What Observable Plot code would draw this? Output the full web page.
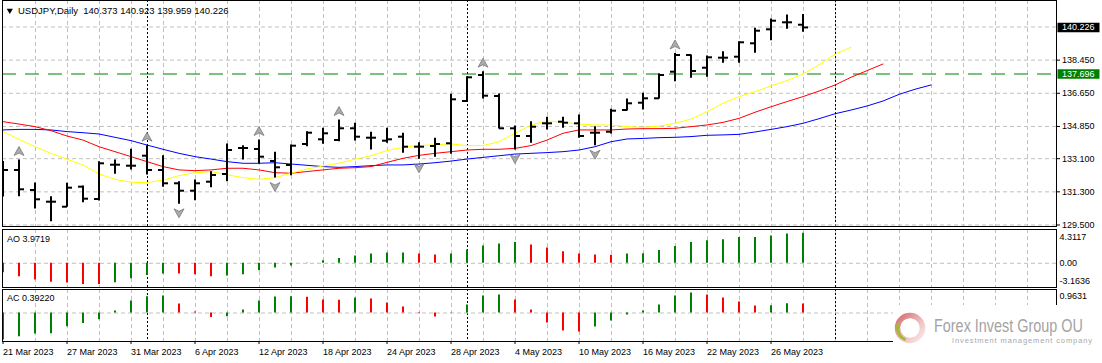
<!DOCTYPE html>
<html>
<head>
<meta charset="utf-8">
<script src="https://cdn.jsdelivr.net/npm/d3@7"></script>
<script src="https://cdn.jsdelivr.net/npm/@observablehq/plot@0.6"></script>
<style>
html, body { margin: 0; padding: 0; background: #ffffff; }
#chart { position: relative; width: 1102px; height: 363px; overflow: hidden; background: #fff; }
.panel { position: absolute; left: 0; }
.panel svg { display: block; max-width: none !important; }
#wm { position: absolute; left: 893px; top: 305px; width: 209px; height: 58px; background: #fff; }
</style>
</head>
<body>
<div id="chart">
  <div class="panel" id="pMain" style="top:0px"></div>
  <div class="panel" id="pAO" style="top:228px"></div>
  <div class="panel" id="pAC" style="top:288px"></div>
  <div id="wm">
    <svg width="209" height="58" xmlns="http://www.w3.org/2000/svg">
      <defs>
        <linearGradient id="ring" x1="0" y1="0" x2="1" y2="1">
          <stop offset="0" stop-color="#d27070"/>
          <stop offset="0.55" stop-color="#eebcbc"/>
          <stop offset="1" stop-color="#fbeaea"/>
        </linearGradient>
      </defs>
      <circle cx="17" cy="23" r="12.5" fill="none" stroke="url(#ring)" stroke-width="5.5"/>
      <path d="M5.25,18.72 A12.5,12.5 0 0 0 12.72,34.75" fill="none" stroke="#9cbf2c" stroke-width="2.5"/>
      <text id="wmBig" x="0" y="0" transform="translate(41,27.3)" font-family="'Liberation Sans Narrow','Liberation Sans',Arial,sans-serif" font-size="19" fill="#a3a3a3">Forex Invest Group OU</text>
      <text id="wmSmall" x="59" y="37.5" font-family="'Liberation Sans',Arial,sans-serif" font-size="7.5" fill="#a9a9a9">Investment management company</text>
    </svg>
  </div>
</div>
<script>
// ---------------- data ----------------
const symbolName = "USDJPY";
const timeframe = "Daily";
const dates = ["21 Mar 2023","22 Mar 2023","23 Mar 2023","24 Mar 2023","27 Mar 2023","28 Mar 2023","29 Mar 2023","30 Mar 2023","31 Mar 2023",
  "3 Apr 2023","4 Apr 2023","5 Apr 2023","6 Apr 2023","7 Apr 2023","10 Apr 2023","11 Apr 2023","12 Apr 2023","13 Apr 2023","14 Apr 2023",
  "17 Apr 2023","18 Apr 2023","19 Apr 2023","20 Apr 2023","21 Apr 2023","24 Apr 2023","25 Apr 2023","26 Apr 2023","27 Apr 2023","28 Apr 2023",
  "1 May 2023","2 May 2023","3 May 2023","4 May 2023","5 May 2023","8 May 2023","9 May 2023","10 May 2023","11 May 2023","12 May 2023",
  "15 May 2023","16 May 2023","17 May 2023","18 May 2023","19 May 2023","22 May 2023","23 May 2023","24 May 2023","25 May 2023","26 May 2023",
  "29 May 2023","30 May 2023"];
const open  = [132.757,132.486,131.400,130.765,130.493,131.579,130.911,132.773,132.719,133.262,132.486,131.764,131.362,131.850,132.268,133.680,133.626,
  132.974,132.757,133.897,134.152,134.115,134.750,134.239,134.077,134.294,133.751,133.789,133.935,136.232,137.643,136.503,134.750,134.332,135.021,
  135.108,135.021,134.511,134.565,135.743,136.139,136.378,137.822,138.729,138.040,138.583,138.637,139.364,140.124,140.504,140.373];
const high  = [132.947,133.028,131.780,131.036,131.764,131.617,132.936,133.028,133.610,133.805,133.262,131.850,131.943,132.393,133.897,133.805,134.115,
  133.447,133.843,134.565,134.750,135.200,135.021,134.532,134.750,134.478,133.968,134.207,136.595,137.551,137.822,136.612,134.874,135.108,135.347,
  135.347,135.472,134.836,135.781,136.340,136.650,137.698,138.810,138.729,138.675,138.908,139.451,140.179,140.683,140.901,140.923];
const low   = [131.020,131.036,130.368,129.679,130.461,130.710,130.803,132.252,132.486,132.214,131.546,130.623,130.819,131.525,131.850,133.029,132.812,
  132.051,132.176,133.751,133.881,134.022,134.060,133.572,133.935,133.393,133.067,133.175,133.338,136.194,136.340,134.711,133.572,133.935,134.657,
  134.750,134.207,133.805,134.440,135.689,135.743,136.340,137.279,137.464,137.518,138.278,138.278,138.821,139.505,140.124,139.959];
const close = [132.486,131.438,130.895,130.765,131.525,130.928,132.849,132.773,132.719,132.486,131.764,131.362,131.764,132.214,133.571,133.680,133.208,
  132.632,133.805,134.511,134.478,134.750,134.294,134.239,134.152,133.751,133.751,133.897,136.324,137.518,136.520,134.750,134.332,134.836,135.021,
  135.054,134.332,134.511,135.705,136.107,136.378,137.643,138.729,137.860,138.604,138.583,139.419,140.048,140.591,140.504,140.226];

// Alligator lines (extend into the future)
const lips  = [134.57,134.15,133.75,133.39,133.07,132.76,132.27,131.98,131.82,131.80,131.94,132.18,132.34,132.40,132.23,132.07,131.98,132.07,132.31,
  132.54,132.70,132.85,133.07,133.26,133.54,133.72,133.81,133.86,133.90,133.81,133.81,134.02,134.48,134.93,135.15,135.07,134.98,134.93,134.93,
  134.84,134.80,134.87,135.02,135.25,135.65,136.11,136.47,136.74,137.05,137.34,137.70,138.19,138.77,139.15];
const teeth = [135.11,134.98,134.84,134.62,134.33,134.11,133.75,133.48,133.21,132.94,132.67,132.49,132.45,132.49,132.58,132.58,132.49,132.34,132.31,
  132.40,132.49,132.58,132.61,132.67,132.90,133.12,133.28,133.39,133.48,133.57,133.61,133.61,133.66,133.81,134.11,134.48,134.66,134.66,134.66,
  134.71,134.73,134.73,134.75,134.84,134.93,135.07,135.29,135.62,135.92,136.20,136.47,136.77,137.10,137.52,137.88,138.24];
const jaw   = [134.66,134.69,134.69,134.66,134.57,134.51,134.44,134.26,134.08,133.84,133.61,133.39,133.21,133.08,132.94,132.85,132.85,132.88,132.81,
  132.74,132.67,132.63,132.67,132.72,132.76,132.76,132.81,132.88,132.97,133.08,133.17,133.26,133.35,133.39,133.43,133.48,133.57,133.75,134.02,
  134.17,134.20,134.24,134.26,134.30,134.37,134.39,134.42,134.55,134.69,134.84,135.02,135.27,135.54,135.74,135.96,136.23,136.59,136.87,137.10];

const fractalUp   = [1, 9, 16, 21, 30, 42];
const fractalDown = [3, 11, 17, 26, 32, 37];

const ao = [-1.24,-1.77,-2.21,-2.52,-2.60,-2.80,-2.82,-2.56,-2.03,-1.63,-1.41,-1.43,-1.50,-1.77,-1.68,-1.50,-0.97,-0.62,-0.35,0.04,0.35,0.62,0.97,
  1.24,1.37,1.38,1.24,1.10,1.24,1.77,2.29,2.56,2.74,2.43,2.03,1.54,1.24,1.10,1.08,1.24,1.25,1.68,2.21,2.74,3.00,3.13,3.40,3.42,3.62,3.88,3.9719];
const aoDir = ("rrrrrrr" + "gggg" + "rrr" + "gggggggggggg" + "rr" + "ggggg" + "rrrrrr" + "gggggggggggg").split("");
const ac = [-1.18,-1.03,-0.92,-0.90,-0.60,-0.46,-0.29,0.09,0.52,0.71,0.74,0.39,0.04,-0.20,-0.16,0.13,0.52,0.70,0.71,0.69,0.57,0.56,0.65,0.61,0.44,
  0.26,-0.02,-0.17,-0.01,0.35,0.74,0.78,0.57,0.13,-0.44,-0.78,-0.83,-0.61,-0.35,-0.09,0.09,0.35,0.74,0.87,0.78,0.65,0.48,0.31,0.32,0.40,0.3922];
const acDir = ("ggggggggggg" + "rrr" + "ggggg" + "rrr" + "g" + "rrrrr" + "gggg" + "rrrrr" + "ggggggg" + "rrrr" + "gg" + "r").split("");

const monthStarts = [9, 29, 52];
const dateTicks = [0, 4, 8, 12, 16, 20, 24, 28, 32, 36, 40, 44, 48];
const priceTicks = [129.5, 131.3, 133.1, 134.85, 136.65, 138.45];
const priceGrid  = [129.5, 131.3, 133.1, 134.85, 136.65, 138.45, 140.25];
const hLineLevel = 137.696;
const aoScaleVals = [4.3117, 0, -3.1636];
const aoScaleText = ["4.3117", "0.00", "-3.1636"];
const acScaleVals = [0.9631];
const acScaleText = ["0.9631"];

// ---------------- tables ----------------
const last = close.length - 1;
const bars = dates.map((d, i) => ({i, o: open[i], h: high[i], l: low[i], c: close[i]}));
const series = arr => arr.map((v, i) => ({i, v}));
const aoData = ao.map((v, i) => ({i, v, d: aoDir[i]}));
const acData = ac.map((v, i) => ({i, v, d: acDir[i]}));
const gridX = d3.range(2, 66, 2);

// ---------------- styles ----------------
const FONT = "'Liberation Sans', Arial, Helvetica, sans-serif";
const GRID = "#c0c0c0";
const DASH = "4,3";
const GREEN = "#008000";
const RED = "#ff0000";
const X = {domain: [-1/32, 65.84375], axis: null};
const common = (bg) => ({width: 1102, marginLeft: 2, marginRight: 46,
  style: {fontFamily: FONT, fontSize: "9px", color: "#000", background: bg}});

const openTick  = {draw(ctx) { ctx.moveTo(-5, 0); ctx.lineTo(0, 0); }};
const closeTick = {draw(ctx) { ctx.moveTo(0, 0); ctx.lineTo(5, 0); }};
const arrowUp   = {draw(ctx) { ctx.moveTo(0, -4.5); ctx.lineTo(5, 4.5); ctx.lineTo(0, 2); ctx.lineTo(-5, 4.5); ctx.closePath(); }};
const arrowDown = {draw(ctx) { ctx.moveTo(0, 4.5); ctx.lineTo(5, -4.5); ctx.lineTo(0, -2); ctx.lineTo(-5, -4.5); ctx.closePath(); }};
const priceBox  = {draw(ctx) { ctx.rect(-21, -4.8, 42, 9.6); }};

const verticals = () => [
  Plot.ruleX(gridX, {stroke: GRID, strokeDasharray: DASH, dx: 0.5}),
  Plot.ruleX(monthStarts, {stroke: "#000", strokeDasharray: "2,2", dx: 0.5})
];

const title = `${symbolName},${timeframe}\u00a0\u00a0${open[last].toFixed(3)} ${high[last].toFixed(3)} ${low[last].toFixed(3)} ${close[last].toFixed(3)}`;

// ---------------- main price panel ----------------
const main = Plot.plot({
  ...common("#fff"), height: 232, marginTop: 0, marginBottom: 6,
  x: X, y: {domain: [129.418, 141.688], axis: null},
  marks: [
    ...verticals(),
    Plot.ruleY(priceGrid, {stroke: GRID, strokeDasharray: DASH}),
    Plot.ruleY([hLineLevel], {stroke: GREEN, strokeDasharray: "14,9"}),
    Plot.line(series(jaw),   {x: "i", y: "v", stroke: "#0000ff", strokeWidth: 1}),
    Plot.line(series(teeth), {x: "i", y: "v", stroke: "#ff0000", strokeWidth: 1}),
    Plot.line(series(lips),  {x: "i", y: "v", stroke: "#ffff00", strokeWidth: 1}),
    Plot.ruleX(bars, {x: "i", y1: "l", y2: "h", stroke: "#000", strokeWidth: 2, clip: true}),
    Plot.dot(bars, {x: "i", y: "o", symbol: openTick, fill: "none", stroke: "#000", strokeWidth: 2, clip: true}),
    Plot.dot(bars, {x: "i", y: "c", symbol: closeTick, fill: "none", stroke: "#000", strokeWidth: 2, clip: true}),
    Plot.dot(fractalUp.map(i => bars[i]), {x: "i", y: "h", dy: -9, symbol: arrowUp, fill: "#ababab", stroke: "#6e6e6e", strokeWidth: 0.7, clip: true}),
    Plot.dot(fractalDown.map(i => bars[i]), {x: "i", y: "l", dy: 9, symbol: arrowDown, fill: "#ababab", stroke: "#6e6e6e", strokeWidth: 0.7, clip: true}),
    Plot.frame({stroke: "#000"}),
    Plot.axisY(priceTicks, {anchor: "right", tickSize: 3, tickPadding: 2.5, tickFormat: d => d.toFixed(3), label: null}),
    Plot.dot([close[last]], {y: d => d, frameAnchor: "right", dx: 22, symbol: priceBox, fill: "#000", stroke: "none"}),
    Plot.text([close[last]], {y: d => d, frameAnchor: "right", dx: 5.5, text: d => d.toFixed(3), fill: "#fff", textAnchor: "start"}),
    Plot.dot([hLineLevel], {y: d => d, frameAnchor: "right", dx: 22, symbol: priceBox, fill: GREEN, stroke: "none"}),
    Plot.text([hLineLevel], {y: d => d, frameAnchor: "right", dx: 5.5, text: d => d.toFixed(3), fill: "#fff", textAnchor: "start"}),
    Plot.dot([0], {frameAnchor: "top-left", dx: 7.3, dy: 10, symbol: "triangle", rotate: 180, r: 2.3, fill: "#000", stroke: "none"}),
    Plot.text([title], {frameAnchor: "top-left", dx: 15.5, dy: 10, textAnchor: "start", lineAnchor: "middle", fontSize: 9.5})
  ]
});
document.getElementById("pMain").append(main);

// ---------------- Awesome Oscillator ----------------
const aoPlot = Plot.plot({
  ...common("transparent"), height: 60, marginTop: 1, marginBottom: 1,
  x: X, y: {domain: [-3.203, 4.474], axis: null},
  marks: [
    ...verticals(),
    Plot.ruleY([0], {stroke: GRID, strokeDasharray: DASH}),
    Plot.ruleX(aoData.filter(d => d.d === "g"), {x: "i", y1: 0, y2: "v", stroke: GREEN, strokeWidth: 2}),
    Plot.ruleX(aoData.filter(d => d.d === "r"), {x: "i", y1: 0, y2: "v", stroke: RED, strokeWidth: 2}),
    Plot.frame({stroke: "#000"}),
    Plot.text([`AO ${ao[last].toFixed(4)}`], {frameAnchor: "top-left", dx: 4.5, dy: 9.5, textAnchor: "start", lineAnchor: "middle"}),
    ...aoScaleVals.map((v, k) => Plot.text([v], {y: d => d, text: () => aoScaleText[k], frameAnchor: "right", dx: 3, dy: [6, 0, -6.5][k], textAnchor: "start"}))
  ]
});
document.getElementById("pAO").append(aoPlot);

// ---------------- Accelerator Oscillator + date axis ----------------
const acPlot = Plot.plot({
  ...common("transparent"), height: 75, marginTop: 1, marginBottom: 22,
  x: X, y: {domain: [-1.242, 1.024], axis: null},
  marks: [
    ...verticals(),
    Plot.ruleY([0], {stroke: GRID, strokeDasharray: DASH}),
    Plot.ruleX(acData.filter(d => d.d === "g"), {x: "i", y1: 0, y2: "v", stroke: GREEN, strokeWidth: 2}),
    Plot.ruleX(acData.filter(d => d.d === "r"), {x: "i", y1: 0, y2: "v", stroke: RED, strokeWidth: 2}),
    Plot.frame({stroke: "#000"}),
    Plot.text([`AC ${ac[last].toFixed(5)}`], {frameAnchor: "top-left", dx: 4.5, dy: 8.2, textAnchor: "start", lineAnchor: "middle"}),
    ...acScaleVals.map((v, k) => Plot.text([v], {y: d => d, text: () => acScaleText[k], frameAnchor: "right", dx: 3, dy: 5, textAnchor: "start"})),
    Plot.axisX(dateTicks, {anchor: "bottom", tickSize: 3, tickPadding: 4, tickFormat: i => dates[i], textAnchor: "start", label: null})
  ]
});
document.getElementById("pAC").append(acPlot);

// ---------------- watermark text fitting ----------------
const big = document.getElementById("wmBig");
const bigW = big.getComputedTextLength();
if (bigW > 0) big.setAttribute("transform", `translate(41,27.3) scale(${(149 / bigW).toFixed(4)},1)`);
const small = document.getElementById("wmSmall");
const smallW = small.getComputedTextLength();
if (smallW > 0 && smallW < 140) small.style.letterSpacing = ((140 - smallW) / 28).toFixed(3) + "px";
</script>
</body>
</html>
